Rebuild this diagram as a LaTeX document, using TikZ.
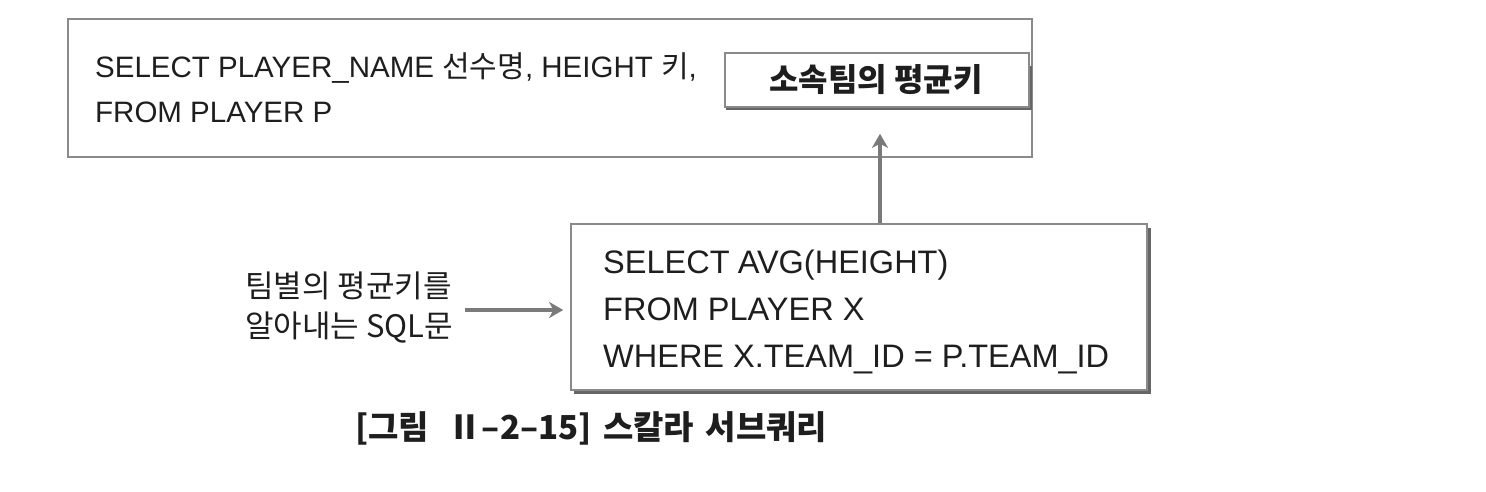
\documentclass[tikz,border=0pt]{standalone}
\usepackage{fontspec}
\setmainfont{Liberation Sans}
\newfontfamily\kr{Noto Sans CJK KR}
\usetikzlibrary{arrows.meta}
\definecolor{ink}{HTML}{1E1E1E}
\definecolor{frame}{HTML}{8A8A8A}
\definecolor{shade}{HTML}{666666}
\definecolor{arrowgray}{HTML}{7A7A7A}
\tikzset{
  box/.style={draw=frame, line width=1.6pt, fill=white, inner sep=0pt},
  txt/.style={anchor=base west, inner sep=0pt, text=ink},
  shadowline/.style={draw=shade, line width=3pt},
  arr/.style={draw=arrowgray, line width=4pt, -{Stealth[length=14pt,width=16pt,inset=4pt]}}
}
\begin{document}
\begin{tikzpicture}[x=1pt,y=-1pt]
\useasboundingbox (0,0) rectangle (1486,492);
% outer query box
\node[box, minimum width=964pt, minimum height=138pt] (outer) at (550,88) {};
\node[txt, font=\fontsize{29.5}{34}\selectfont] (l1) at (95,78) {SELECT PLAYER\_NAME {\kr\fontsize{30}{32}\selectfont 선수명}, HEIGHT {\kr\fontsize{30}{32}\selectfont 키},};
\node[txt, font=\fontsize{29.5}{34}\selectfont] (l2) at (95,123) {FROM PLAYER P};
% inner box
\draw[shadowline] (1030,66) -- (1030,109) -- (726,109);
\node[box, minimum width=304pt, minimum height=54pt] (avg) at (877,80) {};
\node[anchor=center, inner sep=0pt, text=ink, font=\kr\bfseries\fontsize{32}{36}\selectfont] (avgt) at (876,80) {소속팀의 평균키};
% subquery box
\draw[shadowline] (1149,228) -- (1149,392) -- (574,392);
\node[box, minimum width=576pt, minimum height=166pt] (sub) at (859,307) {};
\node[txt, font=\fontsize{32.5}{38}\selectfont] (s1) at (603,273) {SELECT\hspace{0.25em}AVG(HEIGHT)};
\node[txt, font=\fontsize{32.5}{38}\selectfont] (s2) at (603,320) {FROM PLAYER X};
\node[txt, font=\fontsize{32.5}{38}\selectfont] (s3) at (603,367) {WHERE X.TEAM\_ID = P.TEAM\_ID};
% left label
\node[anchor=west, inner sep=0pt, text=ink, align=left, font=\kr\fontsize{31}{40}\selectfont] (lab) at (245,308) {팀별의 평균키를\\알아내는 SQL문};
% arrows
\coordinate (upx) at (880,0);
\draw[arr, shorten >=26pt] (sub.north -| upx) -- (avg.south -| upx);
\draw[arr, shorten <=12pt, shorten >=7pt] (lab.east |- 0,310) -- (sub.west |- 0,310);
% caption
\node[txt, font=\kr\bfseries\fontsize{33}{38}\selectfont] (cap) at (355,439) {[그림\hspace{0.6em}Ⅱ–2–15]\hspace{0.35em}스칼라\hspace{0.35em}서브쿼리};
\end{tikzpicture}
\end{document}
